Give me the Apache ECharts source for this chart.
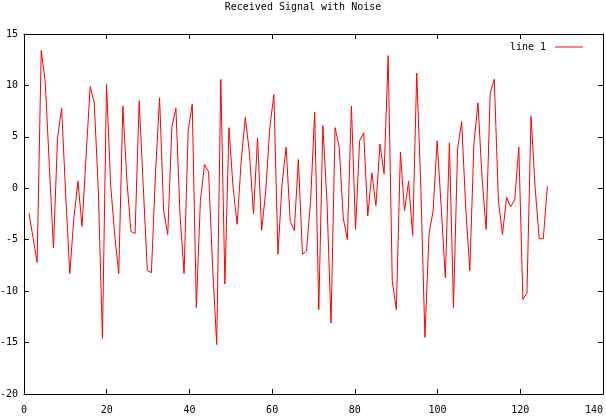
<!DOCTYPE html>
<html>
<head>
<meta charset="utf-8">
<script src="https://cdn.jsdelivr.net/npm/echarts@6/dist/echarts.min.js"></script>
<style>
  html, body { margin: 0; padding: 0; background: #fff; }
  #chart { width: 606px; height: 418px; }
</style>
</head>
<body>
<div id="chart"></div>
<script>
// sample times (first sample and spacing)
const sampleStart = 1.2;
const sampleStep = 0.987;

// received signal, one value per sample
const signal = [
  -2.4, -4.8, -7.2, 13.4, 10.3, 2.1, -5.8, 4.9, 7.8, -0.6,
  -8.3, -2.9, 0.7, -3.7, 3.2, 9.9, 8.3, -0.3, -14.6, 10.1,
  0.4, -4.5, -8.3, 8.0, 0.7, -4.2, -4.4, 8.5, 0.2, -8.0,
  -8.2, 1.5, 8.8, -2.2, -4.5, 5.9, 7.8, -2.5, -8.3, 5.6,
  8.2, -11.6, -1.2, 2.3, 1.6, -7.7, -15.2, 10.6, -9.3, 5.9,
  0.1, -3.5, 2.7, 6.9, 3.5, -2.5, 4.9, -4.1, -0.3, 5.9,
  9.1, -6.4, 0.4, 4.0, -3.2, -4.1, 2.8, -6.4, -6.1, -1.2,
  7.4, -11.8, 6.1, -1.2, -13.1, 5.9, 4.0, -2.9, -5.0, 8.0,
  -4.0, 4.6, 5.4, -2.7, 1.5, -1.7, 4.3, 1.4, 12.9, -9.0,
  -11.8, 3.5, -2.2, 0.7, -4.6, 11.2, 0.1, -14.5, -4.5, -2.2,
  4.6, -1.9, -8.7, 4.4, -11.6, 3.8, 6.5, -1.9, -8.0, 4.3,
  8.3, 1.0, -4.0, 9.3, 10.6, -1.2, -4.5, -0.9, -1.8, -1.1,
  4.0, -10.8, -10.2, 7.0, 0.1, -4.9, -4.9, 0.2
];

const xTicks = [0, 20, 40, 60, 80, 100, 120, 140];
const yTicks = [-20, -15, -10, -5, 0, 5, 10, 15];

const FONT = '"DejaVu Sans Mono", "Liberation Mono", monospace';
const INK = '#000';

const points = signal.map((v, i) => [sampleStart + i * sampleStep, v]);

function frameAxis(pos, ticks, showLabel) {
  return {
    type: 'value',
    position: pos,
    min: ticks[0],
    max: ticks[ticks.length - 1],
    interval: ticks[1] - ticks[0],
    axisLine: { show: true, onZero: false, lineStyle: { color: INK, width: 1 } },
    axisTick: { show: true, inside: true, length: 5, lineStyle: { color: INK } },
    axisLabel: {
      show: showLabel,
      color: INK,
      fontFamily: FONT,
      fontSize: 10,
      margin: pos === 'bottom' ? 11 : 6,
      // gnuplot pulls the last x label inside the canvas
      alignMaxLabel: pos === 'bottom' ? 'right' : null
    },
    splitLine: { show: false }
  };
}

const chart = echarts.init(document.getElementById('chart'), null, { renderer: 'canvas' });

chart.setOption({
  animation: false,
  backgroundColor: '#fff',
  title: {
    text: 'Received Signal with Noise',
    left: 'center',
    top: 2,
    padding: 0,
    textStyle: { fontFamily: FONT, fontSize: 10, fontWeight: 'normal', color: INK }
  },
  legend: {
    right: 23,
    top: 42,
    padding: 0,
    align: 'right',
    icon: 'rect',
    itemWidth: 28,
    itemHeight: 1,
    textStyle: { fontFamily: FONT, fontSize: 10, color: INK, padding: [0, 4, 0, 0] },
    data: ['line 1']
  },
  grid: { left: 24, right: 3, top: 34, bottom: 24, containLabel: false, outerBoundsMode: 'none' },
  xAxis: [frameAxis('bottom', xTicks, true), frameAxis('top', xTicks, false)],
  yAxis: [frameAxis('left', yTicks, true), frameAxis('right', yTicks, false)],
  series: [{
    name: 'line 1',
    type: 'line',
    data: points,
    showSymbol: false,
    symbol: 'none',
    lineStyle: { color: '#ff0000', width: 1 },
    itemStyle: { color: '#ff0000' }
  }]
});
</script>
</body>
</html>
